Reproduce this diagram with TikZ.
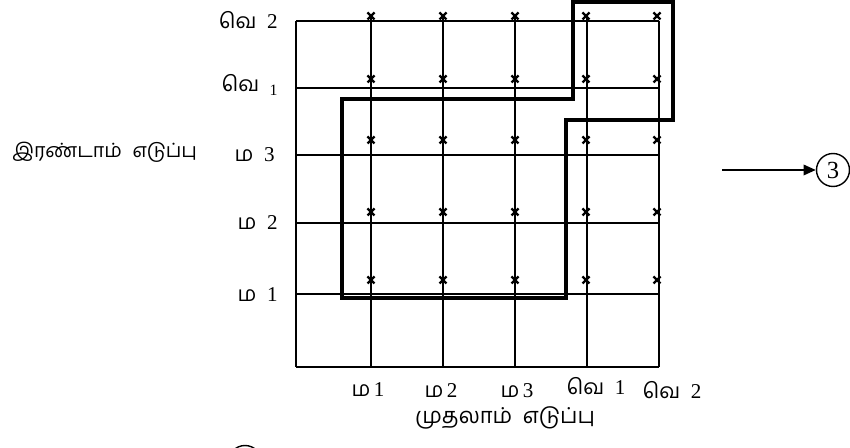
\documentclass[tikz,border=0pt]{standalone}
\usepackage{fontspec}
\setmainfont{Liberation Serif}
\newfontfamily\tamil[Script=Tamil]{Hind Madurai}
\usetikzlibrary{arrows.meta,positioning}

\begin{document}
\begin{tikzpicture}[
  x=0.02cm, y=-0.02cm,
  gridline/.style={line width=0.9pt},
  region/.style={line width=2.3pt, line join=miter},
  crossmark/.style={line width=1.3pt},
  lbl/.style={font=\fontsize{12}{14}\selectfont, inner sep=0pt},
  tlbl/.style={font=\tamil\fontsize{12.5}{15}\selectfont, inner sep=0pt},
  ring/.style={circle, draw, line width=0.8pt, minimum size=0.66cm, inner sep=0pt,
               font=\fontsize{14}{16}\selectfont},
  arr/.style={-{Triangle[length=7pt,width=6pt]}, line width=1.1pt}
]
\useasboundingbox (0,0) rectangle (850,448);

% grid
\foreach \yy in {21,88,155,223,294,367}
  \draw[gridline] (296,\yy) -- (659,\yy);
\draw[gridline] (296,21) -- (296,367);
\draw[gridline] (659,21) -- (659,367);
\foreach \xx in {371,443,515,587}
  \draw[gridline] (\xx,16) -- (\xx,367);

% crosses
\foreach \xx in {371,443,515,586,657}
  \foreach \yy in {16,79,140,212,280}
    \draw[crossmark] (\xx-3.5,\yy-3.5) -- (\xx+3.5,\yy+3.5) (\xx-3.5,\yy+3.5) -- (\xx+3.5,\yy-3.5);

% thick outline
\draw[region] (342,298) -- (342,99) -- (573,99) -- (573,2) -- (673,2)
  -- (673,120) -- (566,120) -- (566,298) -- cycle;

% left labels
\node[lbl, anchor=east] (v2) at (278,20) {{\tamil வெ}~~2};
\node[lbl, anchor=east] (v1) at (278,85) {{\tamil வெ}~~\raisebox{-2pt}{\small 1}};
\node[lbl, anchor=east] (m3) at (275,155) {{\tamil ம}~~3};
\node[lbl, anchor=east] (m2) at (278,223) {{\tamil ம}~~2};
\node[lbl, anchor=east] (m1) at (278,295) {{\tamil ம}~~1};
\node[tlbl, font=\tamil\fontsize{11.2}{14}\selectfont, anchor=west] (second) at (12,152)
  {இரண்டாம்\hspace{6pt}எடுப்பு};

% bottom labels
\node[lbl] (bm1) at (368,390) {{\tamil ம}\,1};
\node[lbl] (bm2) at (441,391) {{\tamil ம}\,2};
\node[lbl] (bm3) at (517,391) {{\tamil ம}\,3};
\node[lbl] (bv1) at (596,386) {{\tamil வெ}~~1};
\node[lbl] (bv2) at (672,390) {{\tamil வெ}~~2};
\node[tlbl] (first) at (505,418) {முதலாம்\hspace{6pt}எடுப்பு};

% arrow to circle
\coordinate (start) at (722,170);
\node[ring] (three) at (833,170) {3};
\draw[arr] (start) -- (three);

\node[ring] (cut) at (245,462) {};
\end{tikzpicture}
\end{document}
